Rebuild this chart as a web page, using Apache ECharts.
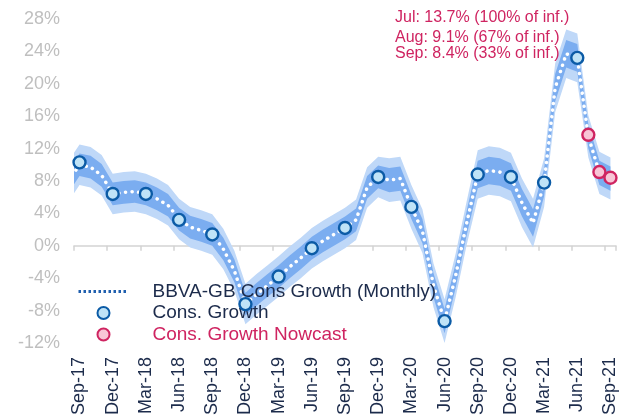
<!DOCTYPE html>
<html><head><meta charset="utf-8">
<script src="https://cdn.jsdelivr.net/npm/echarts@6/dist/echarts.min.js"></script>
<style>html,body{margin:0;padding:0;background:#fff}#c{width:632px;height:418px}</style>
</head><body><div id="c"></div>
<script>
// Axis categories (monthly), labelled every quarter
const axisMonths = ['Sep-17','Oct-17','Nov-17','Dec-17','Jan-18','Feb-18','Mar-18','Apr-18','May-18','Jun-18','Jul-18','Aug-18',
  'Sep-18','Oct-18','Nov-18','Dec-18','Jan-19','Feb-19','Mar-19','Apr-19','May-19','Jun-19','Jul-19','Aug-19',
  'Sep-19','Oct-19','Nov-19','Dec-19','Jan-20','Feb-20','Mar-20','Apr-20','May-20','Jun-20','Jul-20','Aug-20',
  'Sep-20','Oct-20','Nov-20','Dec-20','Jan-21','Feb-21','Mar-21','Apr-21','May-21','Jun-21','Jul-21','Aug-21','Sep-21'];
// Monthly BBVA-GB series: Aug-17 (clipped at the left edge) .. Sep-21
const lineMonths = ['Aug-17'].concat(axisMonths);
const monthlyGrowth = [8.0, 10.0, 9.7, 8.7, 6.4, 6.6, 6.7, 6.4, 5.8, 5.0, 3.3, 2.3, 1.9,
  1.4, -0.4, -3.1, -7.2, -6.0, -4.9, -3.8, -2.6, -1.5, -0.3, 0.6, 1.4,
  2.2, 3.2, 7.2, 8.5, 8.1, 8.3, 4.8, 1.8, -4.9, -9.3, -3.7, 2.8,
  8.8, 9.3, 9.1, 8.5, 5.3, 2.8, 7.8, 19.5, 23.7, 23.2, 13.5, 9.0, 8.3];
const innerSpread = [1.4, 1.4, 1.4, 1.4, 1.4, 1.4, 1.4, 1.4, 1.4, 1.4, 1.4, 1.4, 1.4,
  1.4, 1.4, 1.4, 1.4, 1.4, 1.4, 1.4, 1.4, 1.4, 1.4, 1.4, 1.4,
  1.4, 1.4, 1.4, 1.4, 1.5, 1.5, 1.5, 1.5, 1.5, 1.5, 1.5, 1.5,
  1.7, 1.7, 1.7, 1.7, 1.7, 1.7, 1.7, 1.7, 1.7, 1.7, 1.5, 1.5, 1.5];
const outerSpread = [2.5, 2.5, 2.5, 2.5, 2.5, 2.5, 2.5, 2.5, 2.5, 2.5, 2.5, 2.5, 2.5,
  2.5, 2.5, 2.5, 2.5, 2.5, 2.5, 2.5, 2.5, 2.5, 2.5, 2.5, 2.5,
  2.5, 2.5, 2.5, 2.5, 2.7, 2.7, 2.7, 2.7, 2.7, 2.7, 2.7, 2.7,
  3.0, 3.0, 3.0, 3.0, 3.0, 3.0, 3.0, 3.0, 3.0, 3.0, 2.6, 2.6, 2.6];
// Quarterly consumption growth
const consMonths = ['Sep-17','Dec-17','Mar-18','Jun-18','Sep-18','Dec-18','Mar-19','Jun-19',
  'Sep-19','Dec-19','Mar-20','Jun-20','Sep-20','Dec-20','Mar-21','Jun-21'];
const consGrowth = [10.3, 6.4, 6.4, 3.2, 1.4, -7.2, -3.8, -0.3, 2.2, 8.5, 4.8, -9.3, 8.8, 8.5, 7.8, 23.2];
// Nowcast
const nowcastMonths = ['Jul-21','Aug-21','Sep-21'];
const nowcastNames = ['Jul','Aug','Sep'];
const nowcastValues = [13.7, 9.1, 8.4];
const nowcastInfo = [100, 67, 33];
// Y ticks
const yMin = -12, yMax = 28, yStep = 4;

const FONT = '"Liberation Sans", Arial, sans-serif';
const NAVY = '#1c2b4b', CRIMSON = '#cf2461';
const BAND_OUT = '#bfd8f8', BAND_IN = '#7badf0';

const pos = m => lineMonths.indexOf(m) - 0.5; // centre of month on hidden value axis
const lineData = monthlyGrowth.map((v, k) => [pos(lineMonths[k]), v]);
const consData = consMonths.map((m, i) => [pos(m), consGrowth[i]]);
const nowData = nowcastMonths.map((m, i) => [pos(m), nowcastValues[i]]);

function bandPoints(api, spread) {
  const up = monthlyGrowth.map((v, k) => api.coord([pos(lineMonths[k]), v + spread[k]]));
  const lo = monthlyGrowth.map((v, k) => api.coord([pos(lineMonths[k]), v - spread[k]])).reverse();
  return up.concat(lo);
}

const chart = echarts.init(document.getElementById('c'), null, { renderer: 'canvas' });
chart.setOption({
  animation: false,
  grid: { left: 74, right: 16, top: 19, bottom: 74 },
  xAxis: [
    { type: 'category', data: axisMonths, boundaryGap: true, position: 'bottom',
      axisLine: { show: true, onZero: true, lineStyle: { color: '#d3d3d3', width: 1.5 } },
      axisTick: { show: true, interval: 2, length: 5, lineStyle: { color: '#d3d3d3', width: 1.5 } },
      axisLabel: { show: false }, splitLine: { show: false } },
    { type: 'category', data: axisMonths, boundaryGap: true, position: 'bottom',
      axisLine: { show: false, onZero: false }, axisTick: { show: false }, splitLine: { show: false },
      axisLabel: { interval: 2, rotate: 90, margin: 14, fontSize: 18, fontFamily: FONT, color: NAVY } },
    { type: 'value', min: 0, max: axisMonths.length, show: false }
  ],
  yAxis: { type: 'value', min: yMin, max: yMax, interval: yStep,
    axisLine: { show: false }, axisTick: { show: false }, splitLine: { show: false },
    axisLabel: { formatter: '{value}%', margin: 14, fontSize: 18, fontFamily: FONT, color: '#bfbfbf' } },
  legend: {
    orient: 'vertical', left: 72, top: 277, itemWidth: 50, itemHeight: 12, itemGap: 2.5,
    selectedMode: false,
    textStyle: { fontSize: 19, fontFamily: FONT, color: NAVY, padding: [0, 0, 0, 19] },
    data: [
      { name: 'BBVA-GB Cons Growth (Monthly)',
        lineStyle: { color: '#1f5fae', width: 3, type: [2.5, 2.5], cap: 'butt' },
        itemStyle: { color: 'rgba(0,0,0,0)', borderWidth: 0, opacity: 0 } },
      { name: 'Cons. Growth' },
      { name: 'Cons. Growth Nowcast', textStyle: { color: CRIMSON } }
    ]
  },
  graphic: nowcastNames.map((n, i) => ({
    type: 'text', x: 395, y: [18, 38, 54][i], z: 100,
    style: { text: n + ': ' + nowcastValues[i] + '% (' + nowcastInfo[i] + '% of inf.)',
      fill: CRIMSON, font: '16px ' + FONT, verticalAlign: 'middle' }
  })),
  series: [
    { type: 'custom', name: 'band', xAxisIndex: 2, data: [[0, 0]], silent: true, z: 2, clip: true,
      renderItem: (params, api) => ({
        type: 'group',
        children: [
          { type: 'polygon', shape: { points: bandPoints(api, outerSpread) }, style: { fill: BAND_OUT } },
          { type: 'polygon', shape: { points: bandPoints(api, innerSpread) }, style: { fill: BAND_IN } }
        ]
      }) },
    { type: 'line', name: 'BBVA-GB Cons Growth (Monthly)', xAxisIndex: 2, data: lineData,
      symbol: 'none', silent: true, z: 3,
      lineStyle: { color: '#ffffff', width: 3.5, type: [0.1, 6.5], cap: 'round' } },
    { type: 'scatter', name: 'Cons. Growth', xAxisIndex: 2, data: consData, symbol: 'circle',
      symbolSize: 12, z: 4, itemStyle: { color: '#bfe3f7', borderColor: '#0b5ba6', borderWidth: 2.4, opacity: 1 } },
    { type: 'scatter', name: 'Cons. Growth Nowcast', xAxisIndex: 2, data: nowData, symbol: 'circle',
      symbolSize: 12, z: 4, itemStyle: { color: '#f8c5d6', borderColor: CRIMSON, borderWidth: 2.4, opacity: 1 } }
  ]
});
</script></body></html>
